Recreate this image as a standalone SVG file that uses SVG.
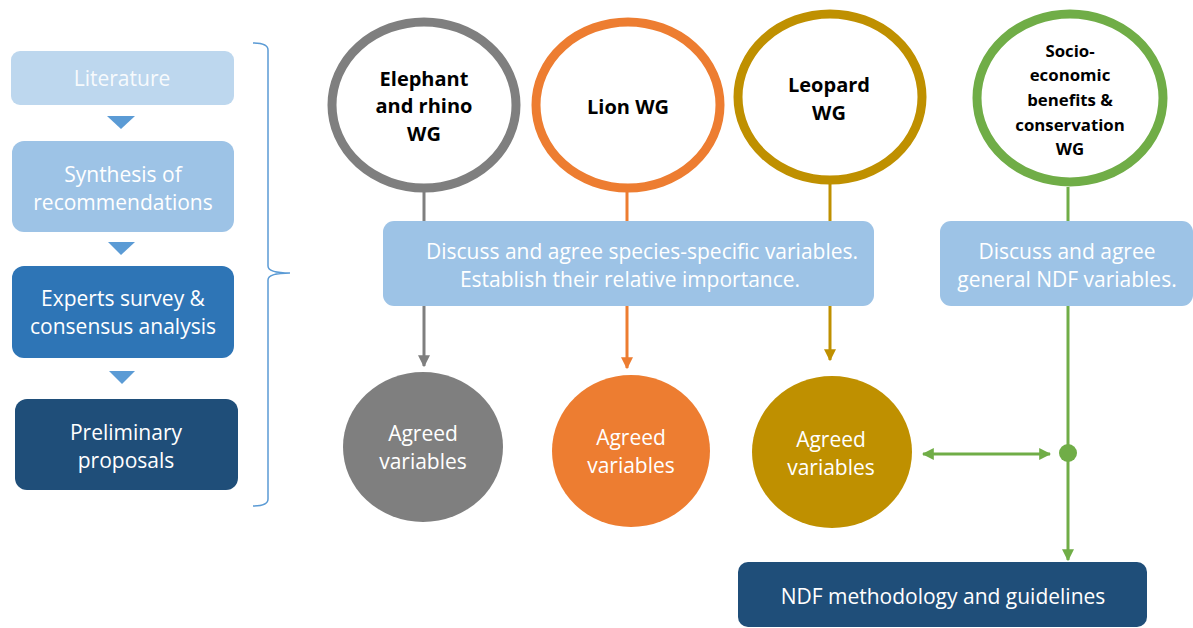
<svg xmlns="http://www.w3.org/2000/svg" width="1193" height="628" viewBox="0 0 1193 628">
<defs>
<style>
.t{font-family:"Open Sans","Liberation Sans",sans-serif;text-anchor:middle;dominant-baseline:central}
.w{fill:#ffffff;font-size:21px}
.b{fill:#000000;font-size:20px;font-weight:bold}
.s{font-size:16.8px}
.tri{fill:#5B9BD5}
</style>
<marker id="ag" viewBox="0 0 10 10" refX="9" refY="5" markerWidth="4" markerHeight="4" orient="auto-start-reverse"><path d="M0,0 L10,5 L0,10 z" fill="#7F7F7F"/></marker>
<marker id="ao" viewBox="0 0 10 10" refX="9" refY="5" markerWidth="4" markerHeight="4" orient="auto-start-reverse"><path d="M0,0 L10,5 L0,10 z" fill="#ED7D31"/></marker>
<marker id="ay" viewBox="0 0 10 10" refX="9" refY="5" markerWidth="4" markerHeight="4" orient="auto-start-reverse"><path d="M0,0 L10,5 L0,10 z" fill="#BF9000"/></marker>
<marker id="an" viewBox="0 0 10 10" refX="9" refY="5" markerWidth="4" markerHeight="4" orient="auto-start-reverse"><path d="M0,0 L10,5 L0,10 z" fill="#70AD47"/></marker>
</defs>
<rect width="1193" height="628" fill="#ffffff"/>

<g id="literature">
<rect x="11" y="51" width="223" height="54" rx="9" fill="#BDD7EE"/>
<text class="t w" x="122" y="78" fill-opacity="0.9">Literature</text>
</g>
<polygon class="tri" points="107,116 135,116 121,129"/>
<g id="synthesis">
<rect x="12" y="141" width="222" height="91" rx="12" fill="#9DC3E6"/>
<text class="t w" x="123" y="174">Synthesis of</text>
<text class="t w" x="123" y="202">recommendations</text>
</g>
<polygon class="tri" points="108,242 135,242 121,255"/>
<g id="experts">
<rect x="12" y="266" width="222" height="92" rx="12" fill="#2E75B6"/>
<text class="t w" x="123" y="298">Experts survey &amp;</text>
<text class="t w" x="123" y="326">consensus analysis</text>
</g>
<polygon class="tri" points="109,371 135,371 122,384"/>
<g id="preliminary">
<rect x="15" y="399" width="223" height="91" rx="12" fill="#1F4E79"/>
<text class="t w" x="126" y="432">Preliminary</text>
<text class="t w" x="126" y="460">proposals</text>
</g>

<path id="bracket" d="M253,43 Q268,43 268,50 L268,266 Q268,273 290,273 Q268,273 268,280 L268,499 Q268,506 253,506" fill="none" stroke="#5B9BD5" stroke-width="1.5"/>

<g id="connectors" fill="none" stroke-width="3">
<line x1="424" y1="192" x2="424" y2="222" stroke="#7F7F7F"/>
<line x1="424" y1="305" x2="424" y2="366" stroke="#7F7F7F" marker-end="url(#ag)"/>
<line x1="627" y1="192" x2="627" y2="222" stroke="#ED7D31"/>
<line x1="627" y1="305" x2="627" y2="368" stroke="#ED7D31" marker-end="url(#ao)"/>
<line x1="830" y1="183" x2="830" y2="222" stroke="#BF9000"/>
<line x1="830" y1="305" x2="830" y2="360" stroke="#BF9000" marker-end="url(#ay)"/>
<line x1="1068" y1="187" x2="1068" y2="222" stroke="#70AD47"/>
<line x1="1068" y1="305" x2="1068" y2="560" stroke="#70AD47" marker-end="url(#an)"/>
<line x1="923" y1="454" x2="1050" y2="454" stroke="#70AD47" marker-start="url(#an)" marker-end="url(#an)"/>
<circle cx="1068" cy="453" r="9" fill="#70AD47" stroke="none"/>
</g>

<g id="elephant">
<ellipse cx="424" cy="105" rx="92" ry="83" fill="#ffffff" stroke="#7F7F7F" stroke-width="9"/>
<text class="t b" x="424" y="78">Elephant</text>
<text class="t b" x="424" y="105">and rhino</text>
<text class="t b" x="424" y="133">WG</text>
</g>
<g id="lion">
<ellipse cx="628" cy="105" rx="92" ry="83" fill="#ffffff" stroke="#ED7D31" stroke-width="9"/>
<text class="t b" x="628" y="106">Lion WG</text>
</g>
<g id="leopard">
<ellipse cx="830" cy="97" rx="92" ry="83" fill="#ffffff" stroke="#BF9000" stroke-width="9"/>
<text class="t b" x="829" y="84">Leopard</text>
<text class="t b" x="829" y="112">WG</text>
</g>
<g id="socio">
<ellipse cx="1070" cy="98" rx="93" ry="84" fill="#ffffff" stroke="#70AD47" stroke-width="9"/>
<text class="t b s" x="1070" y="50">Socio-</text>
<text class="t b s" x="1070" y="74">economic</text>
<text class="t b s" x="1070" y="99">benefits &amp;</text>
<text class="t b s" x="1070" y="124">conservation</text>
<text class="t b s" x="1070" y="148">WG</text>
</g>

<g id="discuss-species">
<rect x="383" y="221" width="491" height="85" rx="11" fill="#9DC3E6"/>
<text class="t w" x="642" y="251">Discuss and agree species-specific variables.</text>
<text class="t w" x="630" y="279">Establish their relative importance.</text>
</g>
<g id="discuss-general">
<rect x="940" y="221" width="253" height="85" rx="11" fill="#9DC3E6"/>
<text class="t w" x="1067" y="251">Discuss and agree</text>
<text class="t w" x="1067" y="279">general NDF variables.</text>
</g>

<g id="agreed-grey">
<ellipse cx="423" cy="447" rx="80" ry="75" fill="#7F7F7F"/>
<text class="t w" x="423" y="433">Agreed</text>
<text class="t w" x="423" y="461">variables</text>
</g>
<g id="agreed-orange">
<ellipse cx="631" cy="451" rx="79" ry="76" fill="#ED7D31"/>
<text class="t w" x="631" y="437">Agreed</text>
<text class="t w" x="631" y="465">variables</text>
</g>
<g id="agreed-gold">
<ellipse cx="832" cy="452" rx="80" ry="76" fill="#BF9000"/>
<text class="t w" x="831" y="439">Agreed</text>
<text class="t w" x="831" y="467">variables</text>
</g>

<g id="ndf">
<rect x="738" y="562" width="409" height="65" rx="10" fill="#1F4E79"/>
<text class="t w" x="943" y="596">NDF methodology and guidelines</text>
</g>
</svg>
